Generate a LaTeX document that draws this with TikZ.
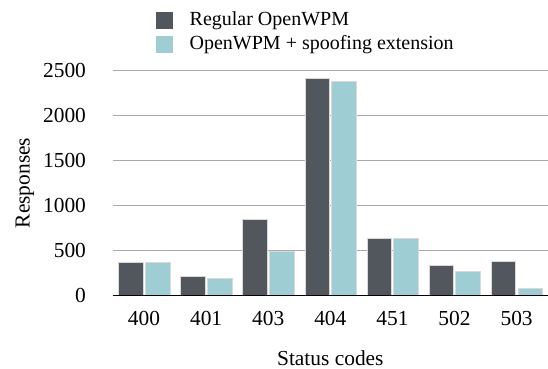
\documentclass[tikz,border=0pt]{standalone}
\usepackage{fontspec}
\setmainfont{Liberation Serif}
\usetikzlibrary{positioning}

\definecolor{regular}{HTML}{52575D}
\definecolor{spoofed}{HTML}{9ECDD3}
\definecolor{gridgray}{HTML}{AAAAAA}

\begin{document}
\begin{tikzpicture}[x=31.05pt, y=0.045pt, font=\fontsize{10.7}{13}\selectfont,
    bar/.style={draw=white!70!gray, line width=0.3pt},
    key/.style={minimum size=8.6pt, inner sep=0pt},
    keytext/.style={font=\fontsize{10}{12}\selectfont}]
    \useasboundingbox (-1.8196,-816.7) rectangle (7.005,3283.3);

    % Grid and y ticks
    \foreach \y in {500,1000,...,2500}
        \draw[gridgray, line width=0.5pt] (0,\y) -- (7.005,\y);
    \foreach \y in {0,500,...,2500}
        \node[anchor=east] (tick\y) at ([xshift=-10pt]0,\y) {\y};

    % Bars per status code
    \foreach \code/\reg/\spf [count=\i from 0] in {400/365/365, 401/210/195, 403/850/495, 404/2415/2380, 451/630/640, 502/330/270, 503/375/75}
    {
        \filldraw[fill=regular, bar] (\i+0.09,0) rectangle (\i+0.485,\reg);
        \filldraw[fill=spoofed, bar] (\i+0.52,0) rectangle (\i+0.915,\spf);
        \node (code\code) at (\i+0.5,-261) {\code};
    }
    \draw[black, line width=0.8pt] (0,0) -- (7.005,0);

    % Axis titles
    \node[rotate=90] (ylabel) at (-1.417,1250) {Responses};
    \node (xlabel) at (3.5,-700) {Status codes};

    % Legend
    \node[key, fill=regular] (keyreg) at (0.831,3052) {};
    \node[key, fill=spoofed] (keyspf) at (0.831,2787) {};
    \node[keytext, right=4.5pt of keyreg] (textreg) {Regular OpenWPM};
    \node[keytext, right=4.5pt of keyspf] (textspf) {OpenWPM + spoofing extension};
\end{tikzpicture}
\end{document}
